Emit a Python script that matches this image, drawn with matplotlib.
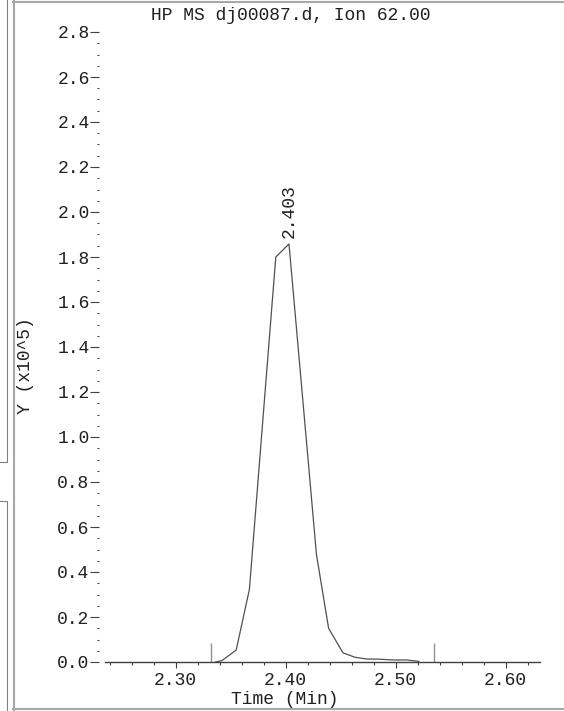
import matplotlib
matplotlib.use("Agg")
import matplotlib.pyplot as plt
from matplotlib.ticker import MultipleLocator, FormatStrFormatter

# Extracted ion chromatogram, ion 62.00
time_min = [2.336, 2.342, 2.355, 2.367, 2.391, 2.403, 2.428, 2.439,
            2.452, 2.463, 2.474, 2.483, 2.498, 2.510, 2.521]
abundance = [0.000, 0.006, 0.053, 0.323, 1.800, 1.858, 0.476, 0.150,
             0.041, 0.021, 0.013, 0.013, 0.009, 0.009, 0.003]  # x10^5

peak_time = 2.403
peak_value = 1.858
integration_marks = [2.332, 2.535]

title = "HP MS dj00087.d, Ion 62.00"
mono = "Liberation Mono"
ink = "#202020"

W, H = 564, 711
fig = plt.figure(figsize=(W / 100, H / 100), dpi=100)

# page frame drawn in pixel coordinates
bg = fig.add_axes([0, 0, 1, 1], zorder=0)
bg.set_xlim(0, W)
bg.set_ylim(H, 0)
bg.axis("off")
frame = "#a8a8a8"
bg.plot([13.5, 13.5], [0, H], color=frame, lw=1.5)
bg.plot([13, W], [1.5, 1.5], color=frame, lw=1.5)
bg.plot([13, W], [708.5, 708.5], color=frame, lw=1.5)
side = "#808080"
bg.plot([7, 7, 0], [0, 462, 462], color=side, lw=0.8)
bg.plot([0, 7, 7], [500.5, 500.5, H], color=side, lw=0.8)

# plot area: left edge x=99px, bottom y=662px, top y=32px, right x=540px
left, right, top, bottom = 99, 540, 32, 662
ax = fig.add_axes([left / W, 1 - bottom / H, (right - left) / W, (bottom - top) / H], zorder=1)
ax.patch.set_alpha(0)

px_per_min = 1100.0
x0 = 2.30 - (175.7 - left) / px_per_min
x1 = 2.30 + (right - 175.7) / px_per_min
ax.set_xlim(x0, x1)
ax.set_ylim(0, 2.8)

ax.plot(time_min, abundance, color="#505050", lw=0.9, zorder=3)
ax.vlines(integration_marks, 0, 0.084, color="#909090", lw=1.0, zorder=2)

ax.annotate(f"{peak_time:.3f}", xy=(peak_time, peak_value), xytext=(0, 4),
            textcoords="offset points", rotation=90, ha="center", va="bottom",
            fontsize=13, family=mono, color=ink)

for s in ["top", "right", "left"]:
    ax.spines[s].set_visible(False)
ax.spines["bottom"].set_color("#404040")
ax.spines["bottom"].set_linewidth(1.0)
ax.spines["bottom"].set_bounds(2.236, x1)

ax.xaxis.set_major_locator(MultipleLocator(0.1))
ax.xaxis.set_minor_locator(MultipleLocator(0.02))
ax.xaxis.set_major_formatter(FormatStrFormatter("%.2f"))
ax.yaxis.set_major_locator(MultipleLocator(0.2))
ax.yaxis.set_minor_locator(MultipleLocator(0.05))
ax.yaxis.set_major_formatter(FormatStrFormatter("%.1f"))

ax.tick_params(axis="x", which="major", direction="out", length=4.3, width=0.8,
               color="#404040", pad=3, labelsize=13, labelcolor=ink)
ax.tick_params(axis="x", which="minor", direction="out", length=2.2, width=0.8,
               color="#404040")
ax.tick_params(axis="y", which="major", direction="out", length=6.3, width=0.8,
               color="#404040", pad=0.5, labelsize=13, labelcolor=ink)
ax.tick_params(axis="y", which="minor", direction="out", length=1.8, width=0.8,
               color="#404040")
for lab in ax.get_xticklabels() + ax.get_yticklabels():
    lab.set_family(mono)

fig.text(291 / W, 1 - 15 / H, title, ha="center", va="center",
         fontsize=13, family=mono, color=ink)
fig.text(285 / W, 1 - 700 / H, "Time (Min)", ha="center", va="center",
         fontsize=13, family=mono, color=ink)
fig.text(25 / W, 1 - 366 / H, "Y (x10^5)", ha="center", va="center",
         rotation=90, fontsize=13, family=mono, color=ink)

fig.savefig("out.png", dpi=100)
